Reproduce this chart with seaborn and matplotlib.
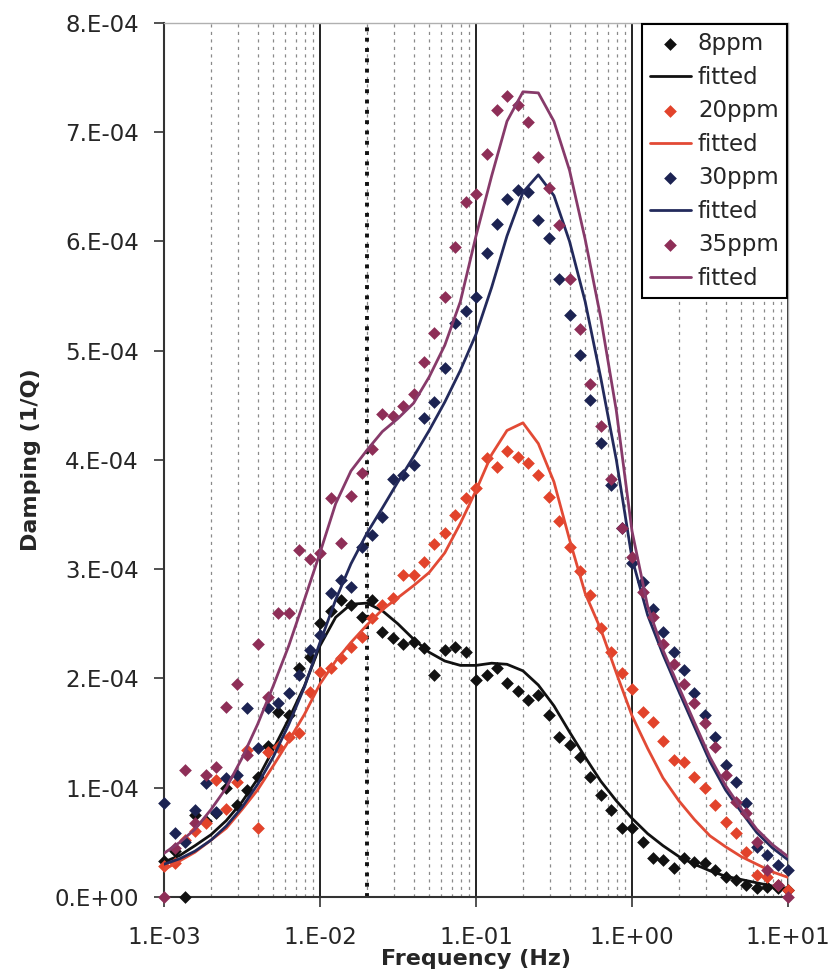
import numpy as np
import pandas as pd
import matplotlib
matplotlib.use("Agg")
import matplotlib.pyplot as plt
from matplotlib.ticker import FixedLocator, FixedFormatter, NullFormatter
import seaborn as sns

# measurement frequencies (Hz), 15 per decade
mantissa = [1.00, 1.17, 1.36, 1.58, 1.85, 2.15, 2.51, 2.93, 3.41, 3.98,
            4.64, 5.41, 6.31, 7.36, 8.58]
freq = [m * 10.0 ** e for e in range(-3, 1) for m in mantissa] + [10.0]

# measured damping, in units of 1e-4
d_8ppm = [0.33, 0.42, 0.00, 0.75, 0.70, 0.77, 1.00, 0.84, 0.98, 1.10,
          1.38, 1.69, 1.67, 2.10, 2.20, 2.51, 2.62, 2.72, 2.67, 2.56,
          2.72, 2.43, 2.37, 2.32, 2.33, 2.28, 2.03, 2.26, 2.29, 2.24,
          1.99, 2.03, 2.10, 1.96, 1.89, 1.80, 1.85, 1.67, 1.46, 1.39,
          1.28, 1.10, 0.93, 0.80, 0.63, 0.63, 0.50, 0.36, 0.34, 0.27,
          0.36, 0.32, 0.31, 0.25, 0.18, 0.16, 0.11, 0.08, 0.09, 0.08,
          0.06]
d_20ppm = [0.28, 0.31, 0.52, 0.60, 0.68, 1.07, 0.81, 1.05, 1.35, 0.63,
           1.33, 1.37, 1.46, 1.50, 1.88, 2.06, 2.10, 2.19, 2.29, 2.38,
           2.55, 2.67, 2.74, 2.95, 2.95, 3.07, 3.23, 3.33, 3.50, 3.65,
           3.74, 4.02, 3.94, 4.08, 4.03, 3.97, 3.86, 3.66, 3.44, 3.20,
           2.98, 2.76, 2.46, 2.24, 2.05, 1.90, 1.69, 1.60, 1.43, 1.25,
           1.24, 1.10, 1.00, 0.84, 0.69, 0.59, 0.41, 0.20, 0.18, 0.11,
           0.06]
d_30ppm = [0.86, 0.59, 0.50, 0.80, 1.04, 0.78, 1.09, 1.12, 1.73, 1.36,
           1.73, 1.78, 1.87, 2.03, 2.26, 2.40, 2.78, 2.90, 2.84, 3.20,
           3.31, 3.48, 3.83, 3.86, 3.95, 4.38, 4.53, 4.84, 5.25, 5.36,
           5.49, 5.89, 6.16, 6.39, 6.47, 6.45, 6.20, 6.03, 5.66, 5.33,
           4.96, 4.55, 4.16, 3.77, 3.38, 3.06, 2.88, 2.64, 2.43, 2.24,
           2.08, 1.87, 1.67, 1.46, 1.21, 1.05, 0.86, 0.46, 0.38, 0.29,
           0.25]
d_35ppm = [0.00, 0.45, 1.16, 0.68, 1.12, 1.19, 1.74, 1.95, 1.30, 2.32,
           1.83, 2.60, 2.60, 3.18, 3.09, 3.15, 3.65, 3.24, 3.67, 3.88,
           4.10, 4.42, 4.40, 4.49, 4.60, 4.90, 5.16, 5.49, 5.95, 6.36,
           6.43, 6.80, 7.20, 7.33, 7.25, 7.09, 6.77, 6.49, 6.15, 5.66,
           5.20, 4.70, 4.31, 3.83, 3.38, 3.11, 2.79, 2.56, 2.32, 2.13,
           1.95, 1.78, 1.59, 1.37, 1.12, 0.87, 0.77, 0.50, 0.25, 0.11,
           0.00]

# fitted curves, 10 points per decade
fit_mant = [1.00, 1.26, 1.58, 2.00, 2.51, 3.16, 3.98, 5.01, 6.31, 7.94]
fit_freq = [m * 10.0 ** e for e in range(-3, 1) for m in fit_mant] + [10.0]

f_8ppm = [0.32, 0.38, 0.47, 0.57, 0.70, 0.87, 1.08, 1.35, 1.63, 1.93,
          2.30, 2.56, 2.68, 2.69, 2.62, 2.50, 2.36, 2.24, 2.16, 2.12,
          2.12, 2.14, 2.13, 2.07, 1.94, 1.75, 1.51, 1.28, 1.06, 0.88,
          0.72, 0.58, 0.47, 0.37, 0.30, 0.24, 0.19, 0.16, 0.13, 0.10,
          0.08]
f_20ppm = [0.25, 0.33, 0.41, 0.52, 0.63, 0.80, 0.98, 1.20, 1.43, 1.67,
           1.95, 2.16, 2.33, 2.49, 2.63, 2.74, 2.85, 2.97, 3.15, 3.42,
           3.72, 4.05, 4.27, 4.34, 4.15, 3.80, 3.27, 2.78, 2.45, 2.05,
           1.66, 1.36, 1.09, 0.88, 0.71, 0.56, 0.46, 0.37, 0.30, 0.23,
           0.18]
f_30ppm = [0.30, 0.35, 0.42, 0.52, 0.65, 0.82, 1.03, 1.28, 1.58, 1.92,
           2.33, 2.72, 3.05, 3.33, 3.56, 3.80, 4.03, 4.27, 4.53, 4.82,
           5.15, 5.58, 6.05, 6.45, 6.61, 6.42, 6.00, 5.45, 4.75, 4.00,
           3.10, 2.58, 2.22, 1.88, 1.56, 1.24, 0.98, 0.78, 0.59, 0.45,
           0.34]
f_35ppm = [0.40, 0.50, 0.62, 0.80, 1.00, 1.27, 1.58, 1.93, 2.30, 2.72,
           3.15, 3.60, 3.90, 4.09, 4.26, 4.38, 4.52, 4.76, 5.05, 5.45,
           6.05, 6.60, 7.10, 7.37, 7.36, 7.10, 6.65, 6.02, 5.30, 4.45,
           3.35, 2.66, 2.26, 1.92, 1.60, 1.28, 1.02, 0.81, 0.62, 0.48,
           0.37]

series = ["8ppm", "20ppm", "30ppm", "35ppm"]
points = [d_8ppm, d_20ppm, d_30ppm, d_35ppm]
fits = [f_8ppm, f_20ppm, f_30ppm, f_35ppm]
point_colors = ["#111111", "#e2432b", "#1c2352", "#8e2e57"]
line_colors = ["#111111", "#e24a35", "#232a5c", "#873a6a"]

xticks = [1e-3, 1e-2, 1e-1, 1e0, 1e1]
xtick_labels = ["1.E-03", "1.E-02", "1.E-01", "1.E+00", "1.E+01"]
yticks = [0, 1e-4, 2e-4, 3e-4, 4e-4, 5e-4, 6e-4, 7e-4, 8e-4]
ytick_labels = ["0.E+00", "1.E-04", "2.E-04", "3.E-04", "4.E-04",
                "5.E-04", "6.E-04", "7.E-04", "8.E-04"]
marker_freq = 0.02

sns.set_style("white")
plt.rcParams["font.family"] = ["DejaVu Sans"]

fig = plt.figure(figsize=(8.32, 9.73), dpi=100)
ax = fig.add_axes([0.1971, 0.0781, 0.75, 0.8983])

handles = []
for name, pts, ft, pc, lc in zip(series, points, fits, point_colors, line_colors):
    df_p = pd.DataFrame({"f": freq, "d": np.array(pts) * 1e-4})
    df_f = pd.DataFrame({"f": fit_freq, "d": np.array(ft) * 1e-4})
    sns.scatterplot(data=df_p, x="f", y="d", ax=ax, marker="D", s=42,
                    color=pc, linewidth=0, clip_on=False, zorder=3)
    handles.append(ax.collections[-1])
    handles[-1].set_label(name)
    sns.lineplot(data=df_f, x="f", y="d", ax=ax, color=lc, lw=2.0,
                 zorder=3)
    handles.append(ax.lines[-1])
    handles[-1].set_label("fitted")

ax.set_xscale("log")
ax.set_xlim(1e-3, 1e1)
ax.set_ylim(0, 8e-4)

ax.xaxis.set_major_locator(FixedLocator(xticks))
ax.xaxis.set_major_formatter(FixedFormatter(xtick_labels))
ax.xaxis.set_minor_locator(FixedLocator(
    [m * 10.0 ** e for e in range(-3, 1) for m in range(2, 10)]))
ax.xaxis.set_minor_formatter(NullFormatter())
ax.yaxis.set_major_locator(FixedLocator(yticks))
ax.yaxis.set_major_formatter(FixedFormatter(ytick_labels))

ax.grid(False)
ax.grid(True, which="major", axis="x", color="#222222", lw=1.4, ls="-")
ax.grid(True, which="minor", axis="x", color="#8a8a8a", lw=0.9,
        ls=(0, (2.5, 3.5)))
ax.set_axisbelow(True)

ax.axvline(marker_freq, color="#111111", lw=2.8, ls=":", zorder=2)

ax.tick_params(axis="both", which="major", direction="out", length=7,
               width=1.2, color="#333333", labelsize=16.5, pad=11,
               bottom=True, left=True)
ax.tick_params(axis="x", which="major", pad=14)
ax.tick_params(axis="x", which="minor", length=0)

for side in ["left", "bottom"]:
    ax.spines[side].set_color("#333333")
    ax.spines[side].set_linewidth(1.5)
for side in ["top", "right"]:
    ax.spines[side].set_color("#b0b0b0")
    ax.spines[side].set_linewidth(1.0)

ax.set_xlabel("Frequency (Hz)", fontsize=16, fontweight="bold", labelpad=0)
ax.set_ylabel("Damping (1/Q)", fontsize=16, fontweight="bold", labelpad=10)

leg = ax.legend(handles=handles, loc="upper right", fontsize=16.5,
                frameon=True, fancybox=False, framealpha=1,
                edgecolor="black", borderaxespad=0.05, borderpad=0.35,
                labelspacing=0.46, handlelength=1.8, handletextpad=0.3,
                scatterpoints=1)
leg.get_frame().set_linewidth(1.5)
leg.set_zorder(5)

plt.savefig("out.png", dpi=100)
